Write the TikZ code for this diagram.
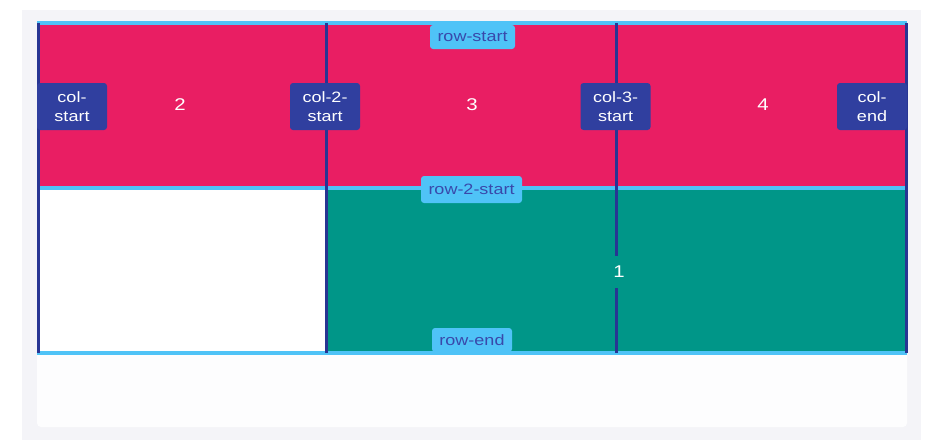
\documentclass[tikz,border=0pt]{standalone}
\usepackage{fontspec}
\setmainfont{Liberation Sans}[FakeStretch=1.2]
\definecolor{pinkc}{HTML}{E91E63}
\definecolor{tealc}{HTML}{009688}
\definecolor{lineblue}{HTML}{283593}
\definecolor{labblue}{HTML}{303F9F}
\definecolor{labtext}{HTML}{3949AB}
\definecolor{ltblue}{HTML}{4FC3F7}
\definecolor{panel}{HTML}{F4F4F8}
\definecolor{card}{HTML}{FDFDFE}
\tikzset{
  cell/.style={draw=none, inner sep=0pt, text=white, font=\fontsize{17}{19}\selectfont},
  collab/.style={fill=labblue, text=white, rounded corners=3pt, minimum width=70pt, minimum height=47pt, inner sep=0pt, align=center, font=\fontsize{15}{19}\selectfont},
  rowlab/.style={fill=ltblue, text=labtext, rounded corners=3pt, inner sep=0pt, font=\fontsize{15}{17}\selectfont},
  hline/.style={ltblue, line width=4pt},
  vline/.style={lineblue, line width=3pt},
}
\begin{document}
\begin{tikzpicture}[x=1pt,y=-1pt]
\useasboundingbox (0,0) rectangle (933,447);
\fill[white] (0,0) rectangle (933,447);
\fill[panel] (22,10) rectangle (921,440);
\fill[card, rounded corners=4pt] (37,23) rectangle (907,427);
% cells
\fill[pinkc] (37,23) rectangle (907,188);
\fill[white] (37,188) rectangle (326,353);
\fill[tealc] (326,188) rectangle (907,353);
\node[cell] (c2) at (180,105) {2};
\node[cell] (c3) at (472,105) {3};
\node[cell] (c4) at (763,105) {4};
% coordinates for grid lines
\coordinate (r1l) at (37,23); \coordinate (r1r) at (907,23);
\coordinate (r2l) at (37,188); \coordinate (r2r) at (907,188);
\coordinate (r3l) at (37,353); \coordinate (r3r) at (907,353);
\coordinate (v1t) at (38,23); \coordinate (v1b) at (38,353);
\coordinate (v2t) at (326,23); \coordinate (v2b) at (326,353);
\coordinate (v3t) at (616,23); \coordinate (v3b) at (616,353);
\coordinate (v4t) at (906,23); \coordinate (v4b) at (906,353);
\draw[hline] (r1l) -- (r1r);
\draw[hline] (r2l) -- (r2r);
\draw[hline] (r3l) -- (r3r);
\draw[vline] (v1t) -- (v1b);
\draw[vline] (v2t) -- (v2b);
\draw[vline] (v3t) -- (v3b);
\draw[vline] (v4t) -- (v4b);
% item 1 label
\node[cell, fill=tealc, minimum width=6pt, minimum height=32pt] (c1) at (619,272) {1};
% column labels
\node[collab] (l1) at (72,106.5) {col-\\start};
\node[collab] (l2) at (325,106.5) {col-2-\\start};
\node[collab] (l3) at (615.5,106.5) {col-3-\\start};
\node[collab] (l4) at (872,106.5) {col-\\end};
% row labels
\node[rowlab, minimum width=85pt, minimum height=24pt] (rs) at (472.5,37) {row-start};
\node[rowlab, minimum width=101pt, minimum height=27pt] (r2s) at (471.5,189.5) {row-2-start};
\node[rowlab, minimum width=80pt, minimum height=24pt] (re) at (472,340) {row-end};
\end{tikzpicture}
\end{document}
